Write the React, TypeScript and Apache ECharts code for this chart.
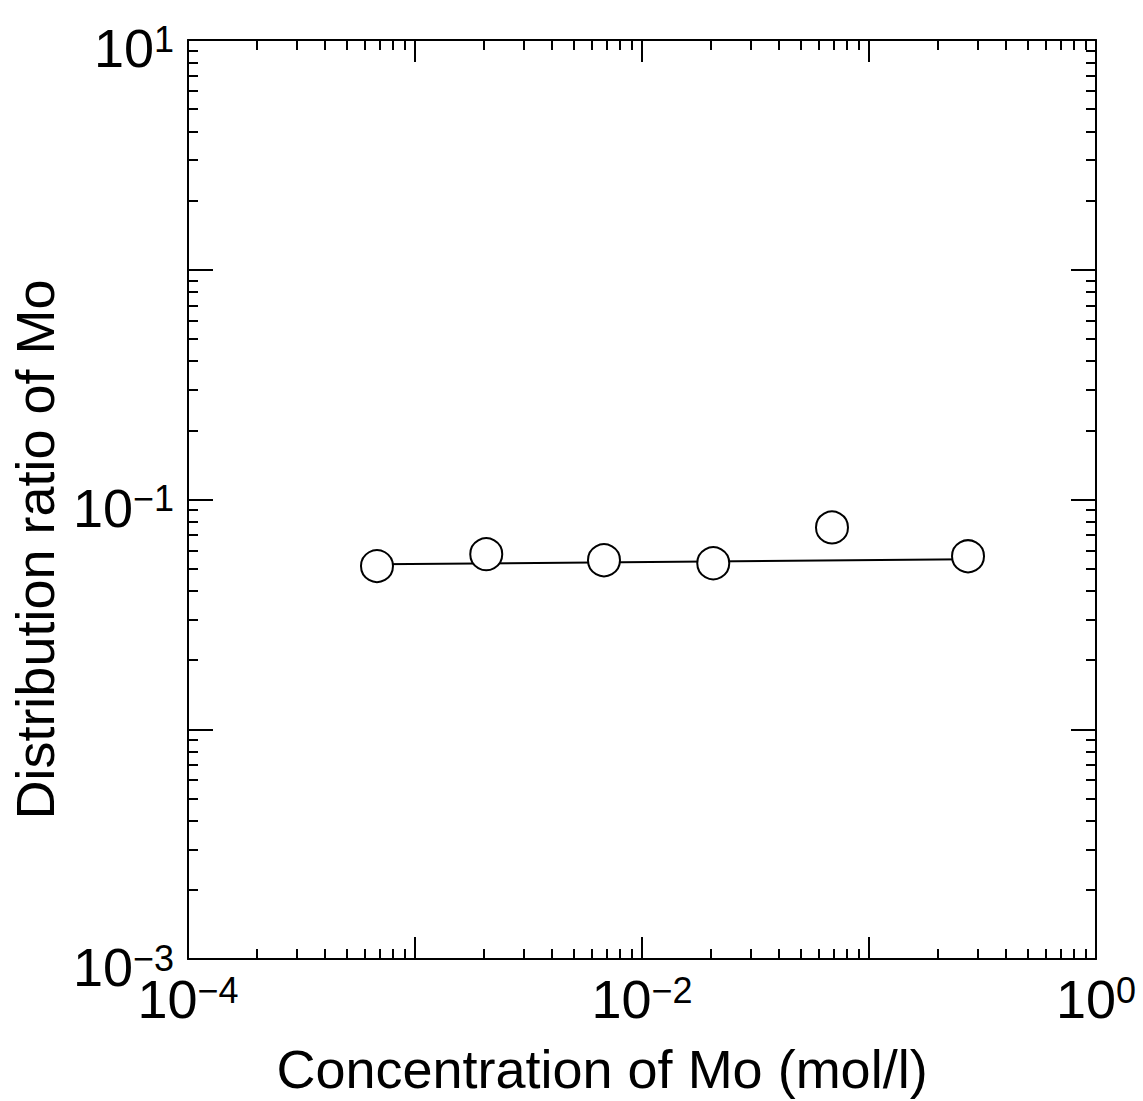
import React, { useEffect, useRef } from "react";
import * as echarts from "echarts";

// Data
const concentration = [6.8e-4, 2.06e-3, 6.8e-3, 0.0206, 0.0687, 0.273];
const distributionRatio = [0.0513, 0.0578, 0.0544, 0.0528, 0.0756, 0.0566];
const fitX = [6.8e-4, 0.273];
const fitY = [0.0522, 0.055];

// Tick labels (only every other decade is labelled)
const xLabelExps = [-4, -2, 0];
const xLabelSups = ["\u22124", "\u22122", "0"];
const yLabelExps = [-3, -1, 1];
const yLabelSups = ["\u22123", "\u22121", "1"];

const FONT = "'Liberation Sans', Arial, Helvetica, sans-serif";

const rich = {
  b: { fontSize: 54, lineHeight: 54, fontFamily: FONT, color: "#000" },
  s: { fontSize: 36, lineHeight: 16, verticalAlign: "top", fontFamily: FONT, color: "#000" },
};

function makeFormatter(exps: number[], sups: string[]) {
  return (value: number) => {
    const e = Math.round(Math.log10(value));
    const i = exps.indexOf(e);
    return i >= 0 ? `{b|10}{s|${sups[i]}}` : "";
  };
}

export default function App() {
  const ref = useRef<HTMLDivElement>(null);
  useEffect(() => {
    document.body.style.margin = "0";
    const chart = echarts.init(ref.current!, null, { renderer: "svg" });
    const axisLine = { show: true, lineStyle: { color: "#000", width: 2 } };
    const xCommon = {
      type: "log" as const,
      logBase: 10,
      min: 1e-4,
      max: 1,
      axisLine,
      axisTick: { show: true, inside: true, length: 22, lineStyle: { color: "#000", width: 2 } },
      minorTick: { show: true, splitNumber: 9, length: 10, lineStyle: { color: "#000", width: 2 } },
      splitLine: { show: false },
      minorSplitLine: { show: false },
    };
    const yCommon = {
      type: "log" as const,
      logBase: 10,
      min: 1e-3,
      max: 10,
      axisLine,
      axisTick: { show: true, inside: true, length: 25, lineStyle: { color: "#000", width: 2 } },
      minorTick: { show: true, splitNumber: 9, length: 10, lineStyle: { color: "#000", width: 2 } },
      splitLine: { show: false },
      minorSplitLine: { show: false },
    };
    chart.setOption({
      animation: false,
      backgroundColor: "#fff",
      grid: { left: 186, right: 47, top: 40, bottom: 137, containLabel: false },
      xAxis: [
        {
          ...xCommon,
          position: "bottom",
          name: "Concentration of Mo (mol/l)",
          nameLocation: "middle",
          nameGap: 83,
          nameTextStyle: { fontSize: 54, lineHeight: 54, fontFamily: FONT, color: "#000", padding: [0, 80, 0, 0] },
          axisLabel: {
            show: true,
            margin: 13,
            showMinLabel: true,
            showMaxLabel: true,
            formatter: makeFormatter(xLabelExps, xLabelSups),
            rich,
          },
        },
        { ...xCommon, position: "top", axisLabel: { show: false } },
      ],
      yAxis: [
        {
          ...yCommon,
          position: "left",
          name: "Distribution ratio of Mo",
          nameLocation: "middle",
          nameGap: 119,
          nameRotate: 90,
          nameTextStyle: { fontSize: 54, lineHeight: 54, fontFamily: FONT, color: "#000", padding: [0, 100, 0, 0] },
          axisLabel: {
            show: true,
            margin: 14,
            padding: [16, 0, 0, 0],
            showMinLabel: true,
            showMaxLabel: true,
            formatter: makeFormatter(yLabelExps, yLabelSups),
            rich,
          },
        },
        { ...yCommon, position: "right", axisLabel: { show: false } },
      ],
      series: [
        {
          type: "line",
          xAxisIndex: 0,
          yAxisIndex: 0,
          data: fitX.map((x, i) => [x, fitY[i]]),
          symbol: "none",
          lineStyle: { color: "#000", width: 2 },
          z: 2,
        },
        {
          type: "scatter",
          xAxisIndex: 0,
          yAxisIndex: 0,
          data: concentration.map((x, i) => [x, distributionRatio[i]]),
          symbol: "circle",
          symbolSize: 32,
          itemStyle: { color: "#fff", borderColor: "#000", borderWidth: 2, opacity: 1 },
          z: 3,
        },
      ],
    });
    return () => chart.dispose();
  }, []);
  return (
    <div
      ref={ref}
      style={{ position: "absolute", left: 0, top: 0, width: 1143, height: 1101 }}
    />
  );
}
